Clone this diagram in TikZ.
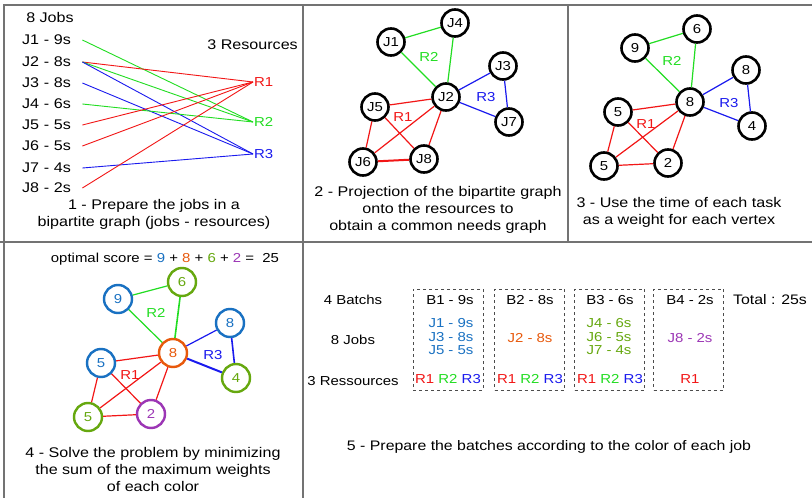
\documentclass[tikz,border=0pt]{standalone}
\usepackage{fontspec}
\setmainfont{Liberation Sans}[FakeStretch=1.15]
\definecolor{rred}{HTML}{F21616}
\definecolor{rgreen}{HTML}{22DD22}
\definecolor{rblue}{HTML}{1A1AEE}
\definecolor{cblue}{HTML}{1971C2}
\definecolor{cgreen}{HTML}{66A80F}
\definecolor{corange}{HTML}{E8590C}
\definecolor{cpurple}{HTML}{9C36B5}
\begin{document}
\begin{tikzpicture}[x=1pt,y=-1pt,
  every node/.style={font=\fontsize{13}{15}\selectfont, inner sep=1pt},
  big/.style={font=\fontsize{14}{16}\selectfont},
  panel/.style={draw=black!55, line width=1.4pt},
  job/.style={anchor=west, text width=60pt, inner sep=0pt, align=left, big},
  res/.style={anchor=west, inner sep=1pt},
  link/.style={line width=0.9pt},
  vtx/.style={circle, draw=black, line width=2.6pt, minimum size=27pt, inner sep=0pt, fill=white},
  cvtx/.style={circle, draw=#1, text=#1, line width=2.4pt, minimum size=28pt, inner sep=0pt, fill=white},
  gedge/.style={line width=1.2pt},
  batchbox/.style={draw=black!70, dashed, line width=0.9pt, minimum width=70pt, minimum height=101pt, inner sep=0pt},
  caption/.style={align=center, font=\fontsize{14}{17}\selectfont}
]
\useasboundingbox (0,0) rectangle (812,498);
\fill[white] (0,0) rectangle (812,498);

% panel frames
\draw[panel] (4,498) -- (4,5) -- (812,5);
\draw[panel] (0,242) -- (812,242);
\draw[panel] (303,5) -- (303,498);
\draw[panel] (568,5) -- (568,242);

% ---- 1: bipartite graph
\node[big] (jobs) at (50,17) {8 Jobs};
\node[big, anchor=east] (res) at (299,45) {3 Resources};
\node[job] (a1) at (22,40) {J1 - 9s};
\node[job] (a2) at (22,62) {J2 - 8s};
\node[job] (a3) at (22,83) {J3 - 8s};
\node[job] (a4) at (22,104) {J4 - 6s};
\node[job] (a5) at (22,125) {J5 - 5s};
\node[job] (a6) at (22,146) {J6 - 5s};
\node[job] (a7) at (22,168) {J7 - 4s};
\node[job] (a8) at (22,188) {J8 - 2s};
\node[res, text=rred] (r1) at (253,82) {R1};
\node[res, text=rgreen] (r2) at (253,122) {R2};
\node[res, text=rblue] (r3) at (253,154) {R3};
\draw[link, rgreen] (a1.east) -- (r2.west);
\draw[link, rred] (a2.east) -- (r1.west);
\draw[link, rgreen] (a2.east) -- (r2.west);
\draw[link, rblue] (a2.east) -- (r3.west);
\draw[link, rblue] (a3.east) -- (r3.west);
\draw[link, rgreen] (a4.east) -- (r2.west);
\draw[link, rred] (a5.east) -- (r1.west);
\draw[link, rred] (a6.east) -- (r1.west);
\draw[link, rblue] (a7.east) -- (r3.west);
\draw[link, rred] (a8.east) -- (r1.west);
\node[caption] (cap1) at (154,214) {1 - Prepare the jobs in a\\bipartite graph (jobs - resources)};

% ---- 2: common needs graph
\node[vtx] (b4) at (455,23) {J4};
\node[vtx] (b1) at (391,42) {J1};
\node[vtx] (b3) at (503,66) {J3};
\node[vtx] (b2) at (446,97) {J2};
\node[vtx] (b5) at (375,107) {J5};
\node[vtx] (b7) at (509,122) {J7};
\node[vtx] (b6) at (363,162) {J6};
\node[vtx] (b8) at (424,159) {J8};
\node[text=rgreen] (l2a) at (429,57) {R2};
\node[text=rblue] (l2b) at (486,97) {R3};
\node[text=rred] (l2c) at (403,117) {R1};
\draw[gedge, rgreen] (b1) -- (b4);
\draw[gedge, rgreen] (b1) -- (b2);
\draw[gedge, rgreen] (b4) -- (b2);
\draw[gedge, rblue] (b2) -- (b3);
\draw[gedge, rblue] (b2) -- (b7);
\draw[gedge, rblue] (b3) -- (b7);
\draw[gedge, rred] (b5) -- (b2);
\draw[gedge, rred] (b5) -- (b6);
\draw[gedge, rred] (b5) -- (b8);
\draw[gedge, rred] (b2) -- (b6);
\draw[gedge, rred] (b2) -- (b8);
\draw[gedge, rred, line width=2pt] (b6) -- (b8);
\node[caption] (cap2) at (438,210) {2 - Projection of the bipartite graph\\onto the resources to\\obtain a common needs graph};

% ---- 3: weighted graph
\node[vtx] (c6) at (697,29) {6};
\node[vtx] (c9) at (635,48) {9};
\node[vtx] (c8b) at (746,70) {8};
\node[vtx] (c8) at (690,102) {8};
\node[vtx] (c5a) at (618,112) {5};
\node[vtx] (c4) at (752,126) {4};
\node[vtx] (c5b) at (604,166) {5};
\node[vtx] (c2) at (668,163) {2};
\node[text=rgreen] (l3a) at (672,61) {R2};
\node[text=rblue] (l3b) at (729,103) {R3};
\node[text=rred] (l3c) at (646,124) {R1};
\draw[gedge, rgreen] (c9) -- (c6);
\draw[gedge, rgreen] (c9) -- (c8);
\draw[gedge, rgreen] (c6) -- (c8);
\draw[gedge, rblue] (c8) -- (c8b);
\draw[gedge, rblue] (c8) -- (c4);
\draw[gedge, rblue] (c8b) -- (c4);
\draw[gedge, rred] (c5a) -- (c8);
\draw[gedge, rred] (c5a) -- (c5b);
\draw[gedge, rred] (c5a) -- (c2);
\draw[gedge, rred] (c8) -- (c5b);
\draw[gedge, rred] (c8) -- (c2);
\draw[gedge, rred] (c5b) -- (c2);
\node[caption] (cap3) at (679,212) {3 - Use the time of each task\\as a weight for each vertex};

% ---- 4: coloured solution
\node (score) at (165,259) {optimal score = \textcolor{cblue}{9} + \textcolor{corange}{8} + \textcolor{cgreen}{6} + \textcolor{cpurple}{2} =\ \ 25};
\node[cvtx=cgreen] (d6) at (182,282) {6};
\node[cvtx=cblue] (d9) at (118,299) {9};
\node[cvtx=cblue] (d8b) at (230,323) {8};
\node[cvtx=corange] (d8) at (173,353) {8};
\node[cvtx=cblue] (d5a) at (101,363) {5};
\node[cvtx=cgreen] (d4) at (236,378) {4};
\node[cvtx=cgreen] (d5b) at (88,417) {5};
\node[cvtx=cpurple] (d2) at (151,414) {2};
\node[text=rgreen] (l4a) at (156,313) {R2};
\node[text=rblue] (l4b) at (213,355) {R3};
\node[text=rred] (l4c) at (130,375) {R1};
\draw[gedge, rgreen] (d9) -- (d6);
\draw[gedge, rgreen] (d9) -- (d8);
\draw[gedge, rgreen, line width=1.6pt] (d6) -- (d8);
\draw[gedge, rblue] (d8) -- (d8b);
\draw[gedge, rblue, line width=2pt] (d8) -- (d4);
\draw[gedge, rblue, line width=1.6pt] (d8b) -- (d4);
\draw[gedge, rred] (d5a) -- (d8);
\draw[gedge, rred] (d5a) -- (d5b);
\draw[gedge, rred] (d5a) -- (d2);
\draw[gedge, rred] (d8) -- (d5b);
\draw[gedge, rred] (d8) -- (d2);
\draw[gedge, rred] (d5b) -- (d2);
\node[caption] (cap4) at (153,469) {4 - Solve the problem by minimizing\\the sum of the maximum weights\\of each color};

% ---- 5: batches
\node (nb) at (353,300) {4 Batchs};
\node (nj) at (353,340) {8 Jobs};
\node (nr) at (353,381) {3 Ressources};
\node[batchbox] (bx1) at (448,339.5) {};
\node[batchbox] (bx2) at (529.5,339.5) {};
\node[batchbox] (bx3) at (609.5,339.5) {};
\node[batchbox] (bx4) at (688.5,339.5) {};
\node (t1) at (450,300) {B1 - 9s};
\node (t2) at (530,300) {B2 - 8s};
\node (t3) at (610,300) {B3 - 6s};
\node (t4) at (690,300) {B4 - 2s};
\node[font=\fontsize{13.8}{15}\selectfont] (tot) at (770,300) {Total : 25s};
\node[text=cblue, align=right, font=\fontsize{13}{13.5}\selectfont] (g1) at (451,337) {J1 - 9s\\J3 - 8s\\J5 - 5s};
\node[text=corange] (g2) at (530,338) {J2 - 8s};
\node[text=cgreen, align=right, font=\fontsize{13}{13.5}\selectfont] (g3) at (609,337) {J4 - 6s\\J6 - 5s\\J7 - 4s};
\node[text=cpurple] (g4) at (690,338) {J8 - 2s};
\node (rr1) at (448,379) {\textcolor{rred}{R1} \textcolor{rgreen}{R2} \textcolor{rblue}{R3}};
\node (rr2) at (530,379) {\textcolor{rred}{R1} \textcolor{rgreen}{R2} \textcolor{rblue}{R3}};
\node (rr3) at (610,379) {\textcolor{rred}{R1} \textcolor{rgreen}{R2} \textcolor{rblue}{R3}};
\node[text=rred] (rr4) at (690,379) {R1};
\node[font=\fontsize{13.8}{15}\selectfont] (cap5) at (549,447) {5 - Prepare the batches according to the color of each job};
\end{tikzpicture}
\end{document}
